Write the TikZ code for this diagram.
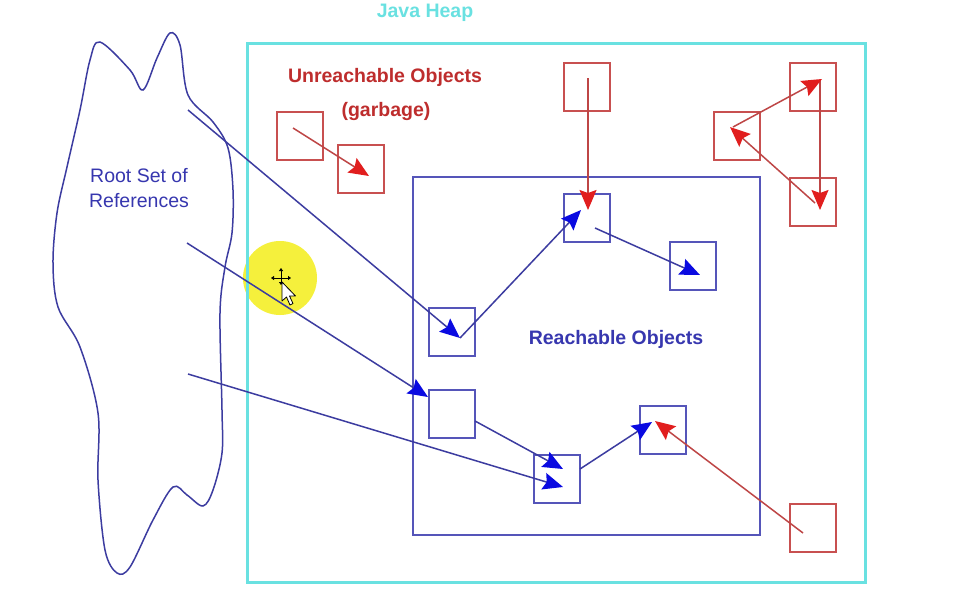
\documentclass[tikz,border=0pt]{standalone}
\usepackage{fontspec}
\setmainfont{Liberation Sans}
\usetikzlibrary{arrows.meta,calc}
\definecolor{heapcyan}{RGB}{105,225,225}
\definecolor{boxblue}{RGB}{85,85,185}
\definecolor{lineblue}{RGB}{60,60,160}
\definecolor{headblue}{RGB}{10,10,225}
\definecolor{boxred}{RGB}{200,80,80}
\definecolor{linered}{RGB}{190,70,70}
\definecolor{headred}{RGB}{225,30,30}
\definecolor{txtred}{RGB}{190,45,45}
\definecolor{txtblue}{RGB}{55,55,175}
\definecolor{hilite}{RGB}{245,240,60}
\tikzset{
  objbox/.style={draw, line width=2pt, minimum width=46pt, minimum height=48pt, inner sep=0pt},
  redbox/.style={objbox, draw=boxred},
  bluebox/.style={objbox, draw=boxblue},
  redarrow/.style={draw=linered, line width=1.5pt, -{Stealth[length=20pt, width=17pt, inset=3pt, color=headred]}},
  bluearrow/.style={draw=lineblue, line width=1.5pt, -{Stealth[length=20pt, width=17pt, inset=3pt, color=headblue]}},
  bigtxt/.style={font=\fontsize{19.5}{25}\selectfont, inner sep=0pt},
}
\begin{document}
\begin{tikzpicture}[x=1pt,y=-1pt]
\useasboundingbox (0,0) rectangle (968,602);
\fill[white] (0,0) rectangle (968,602);
% highlight under everything
\fill[hilite] (280,278) circle (37);
% heap
\draw[heapcyan, line width=3pt] (247,44) rectangle (865,582);
\node[bigtxt, text=heapcyan, font=\fontsize{19.5}{25}\selectfont\bfseries] (heaptitle) at (425,13) {Java Heap};
% reachable region
\draw[boxblue, line width=2pt] (413,177) rectangle (760,535);
\node[bigtxt, text=txtblue, font=\fontsize{19.5}{25}\selectfont\bfseries] (reachlbl) at (616,339) {Reachable Objects};
% unreachable label
\node[bigtxt, text=txtred, font=\fontsize{19.5}{25}\selectfont\bfseries] (unreach1) at (385,77) {Unreachable Objects};
\node[bigtxt, text=txtred, font=\fontsize{19.5}{25}\selectfont\bfseries] (unreach2) at (386,112) {(garbage)};
% root set cloud
\draw[lineblue, line width=1.5pt] plot[smooth cycle, tension=0.55] coordinates {
  (100,42) (130,70) (143,90) (157,58) (170,33) (180,45) (188,95) (213,122) (228,148)
  (233,190) (232,233) (225,267) (220,313) (222,410) (222,453) (213,490) (203,506)
  (187,495) (173,487) (153,520) (130,567) (117,573) (105,550) (98,480) (98,413)
  (80,347) (58,307) (53,263) (57,213) (67,167) (80,110) (90,60)};
\node[bigtxt, text=txtblue, align=center, font=\fontsize{19.5}{25}\selectfont] (rootlbl) at (139,188) {Root Set of\\References};
\coordinate (r1) at (188,110);
\coordinate (r2) at (187,243);
\coordinate (r3) at (188,374);
% red boxes
\node[redbox] (A) at (300,136) {};
\node[redbox] (B) at (361,169) {};
\node[redbox] (C) at (586.5,87) {};
\node[redbox] (D) at (813,87) {};
\node[redbox] (E) at (737,136) {};
\node[redbox] (F) at (813,201.5) {};
\node[redbox] (G) at (813,527.5) {};
% blue boxes
\node[bluebox] (H) at (586.5,217.5) {};
\node[bluebox] (I) at (692.5,266) {};
\node[bluebox] (J) at (451.5,331.5) {};
\node[bluebox] (K) at (451.5,413.5) {};
\node[bluebox] (L) at (557,478.5) {};
\node[bluebox] (M) at (663,429.5) {};
% red arrows
\draw[redarrow] ($(A.center)+(-7,-8)$) -- ($(B.center)+(8,7)$);
\draw[redarrow] ($(C.center)+(1.5,-9)$) -- ($(H.center)+(1.5,-7.5)$);
\draw[redarrow] ($(D.center)+(7,-7)$) -- ($(F.center)+(7,8.5)$);
\draw[redarrow] ($(F.center)+(2,1.5)$) -- ($(E.center)+(-7,-9)$);
\draw[redarrow] ($(E.center)+(-4,-9)$) -- ($(D.center)+(9,-8)$);
\draw[redarrow] ($(G.center)+(-10,5.5)$) -- ($(M.center)+(-8,-8.5)$);
% blue arrows
\draw[bluearrow] (r1) -- ($(J.center)+(8.5,6.5)$);
\draw[bluearrow] (r2) -- ($(K.center)+(-23.5,-16.5)$);
\draw[bluearrow] (r3) -- ($(L.center)+(6,8.5)$);
\draw[bluearrow] ($(K.center)+(23.5,7.5)$) -- ($(L.center)+(6,-9.5)$);
\draw[bluearrow] ($(J.center)+(8.5,6.5)$) -- ($(H.center)+(-5.5,-7.5)$);
\draw[bluearrow] ($(H.center)+(8.5,10.5)$) -- ($(I.center)+(7.5,9)$);
\draw[bluearrow] ($(L.center)+(23,-9.5)$) -- ($(M.center)+(-11,-7.5)$);
% mouse cursor
\coordinate (cur) at (281,278);
\draw[black, line width=1pt, -{Triangle[length=3pt,width=4pt]}] (cur) -- ++(0,-10);
\draw[black, line width=1pt, -{Triangle[length=3pt,width=4pt]}] (cur) -- ++(10,0);
\draw[black, line width=1pt, -{Triangle[length=3pt,width=4pt]}] (cur) -- ++(-10,0);
\draw[black, line width=1pt, -{Triangle[length=3pt,width=4pt]}] (cur) -- ++(0,7);
\draw[black, fill=white, line width=0.8pt, line join=round]
  (282,282) -- (282,301) -- (286.5,297) -- (290,305) -- (293,303.5) -- (289.5,296) -- (295.5,296) -- cycle;
\end{tikzpicture}
\end{document}
